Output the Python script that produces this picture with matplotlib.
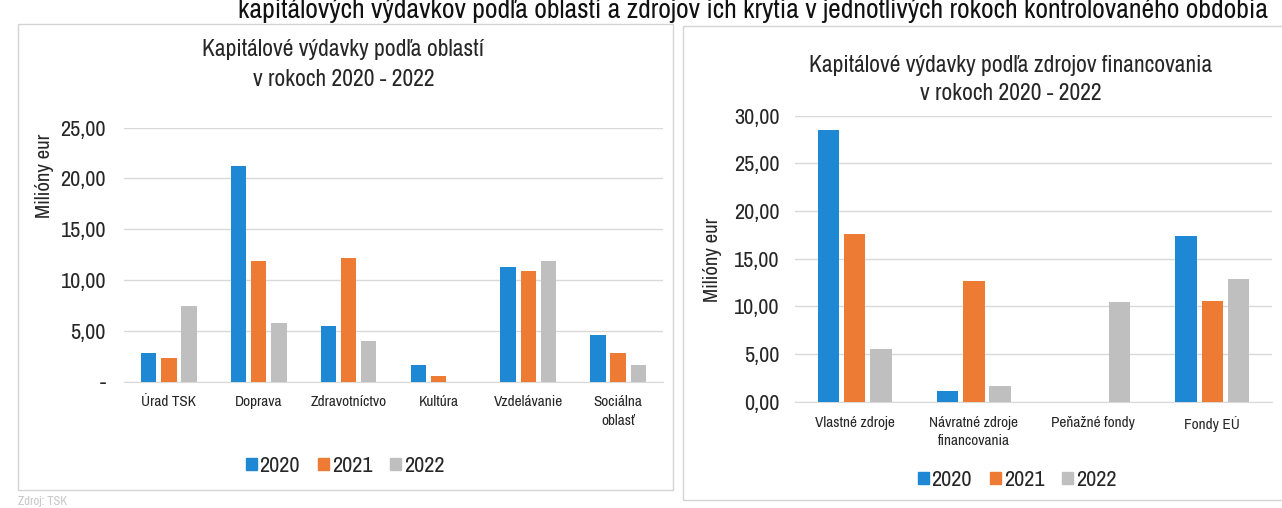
import matplotlib
matplotlib.use("Agg")
import matplotlib.pyplot as plt
import numpy as np
from matplotlib.patches import Patch, Rectangle
from matplotlib import font_manager

# prefer a narrow/condensed sans (the reference uses an Arial Narrow–like face)
FONT = ['Liberation Sans']
STRETCH = 'normal'
cands = [f for f in font_manager.fontManager.ttflist]
narrow = [f for f in cands if 'Narrow' in f.name]
cond = [f for f in cands if f.name == 'DejaVu Sans' and str(f.stretch).lower() in ('condensed', 'semi-condensed')]
if narrow:
    FONT = [narrow[0].name]
elif cond:
    FONT = ['DejaVu Sans']
    STRETCH = 'condensed'
plt.rcParams['font.family'] = FONT + ['DejaVu Sans']
plt.rcParams['font.stretch'] = STRETCH

# ---------------- data ----------------
years = ['2020', '2021', '2022']
areas = ['Úrad TSK', 'Doprava', 'Zdravotníctvo', 'Kultúra', 'Vzdelávanie', 'Sociálna\noblasť']
areas_2020 = [2.85, 21.25, 5.5, 1.6, 11.3, 4.6]
areas_2021 = [2.3, 11.85, 12.15, 0.55, 10.9, 2.8]
areas_2022 = [7.4, 5.8, 4.0, 0.0, 11.9, 1.6]

sources = ['Vlastné zdroje', 'Návratné zdroje\nfinancovania', 'Peňažné fondy', 'Fondy EÚ']
sources_2020 = [28.45, 1.1, 0.0, 17.4]
sources_2021 = [17.55, 12.65, 0.0, 10.6]
sources_2022 = [5.5, 1.6, 10.5, 12.9]

left_ticks = ['-', '5,00', '10,00', '15,00', '20,00', '25,00']
right_ticks = ['0,00', '5,00', '10,00', '15,00', '20,00', '25,00', '30,00']

colors = ['#1e88d4', '#ee7b33', '#bfbfbf']
grid_c = '#d9d9d9'
text_c = '#262626'

W, H = 1282, 508
fig = plt.figure(figsize=(W / 100, H / 100), dpi=100)
fig.patch.set_facecolor('white')

def fx(px):
    return px / W

def fy(py):
    return 1 - py / H

# panel frames
fig.add_artist(Rectangle((fx(18), fy(490)), fx(655), fy(24) - fy(490), transform=fig.transFigure,
                         fill=False, edgecolor='#d4d4d4', lw=1.0))
fig.add_artist(Rectangle((fx(683), fy(500)), fx(640), fy(26) - fy(500), transform=fig.transFigure,
                         fill=False, edgecolor='#d4d4d4', lw=1.0))

# top heading (cut in the scan)
fig.text(fx(238), fy(18), 'kapitálových výdavkov podľa oblastí a zdrojov ich krytia v jednotlivých rokoch kontrolovaného obdobia',
         ha='left', va='baseline', fontsize=20, color='#111111')
fig.text(fx(18), fy(505), 'Zdroj: TSK', ha='left', va='baseline', fontsize=9, color='#c8c8c8')


def draw(ax, cats, series, yticks, ylim, width, offset, catsize, ticksize, ypad):
    x = np.arange(len(cats))
    for i, (vals, c) in enumerate(zip(series, colors)):
        ax.bar(x + (i - 1) * offset, vals, width=width, color=c, zorder=3)
    ax.set_xlim(-0.5, len(cats) - 0.5)
    ax.set_ylim(*ylim)
    ax.set_yticks(np.arange(0, ylim[1] + 0.1, 5))
    ax.set_yticklabels(yticks, fontsize=ticksize, color=text_c)
    ax.set_xticks(x)
    ax.set_xticklabels(cats, fontsize=catsize, color=text_c, linespacing=1.4)
    ax.tick_params(axis='both', length=0)
    ax.tick_params(axis='x', pad=10)
    ax.tick_params(axis='y', pad=ypad)
    ax.yaxis.grid(True, color=grid_c, lw=1.0, zorder=0)
    for s in ['top', 'right', 'left']:
        ax.spines[s].set_visible(False)
    ax.spines['bottom'].set_color(grid_c)
    ax.set_facecolor('none')


# left chart
axL = fig.add_axes([fx(124), fy(381.5), fx(539), fy(127.7) - fy(381.5)])
draw(axL, areas, [areas_2020, areas_2021, areas_2022], left_ticks, (0, 25), 0.17, 0.225, 11, 16, 13)
fig.text(fx(343), fy(49), 'Kapitálové výdavky podľa oblastí', ha='center', va='center', fontsize=17, color=text_c)
fig.text(fx(344), fy(79), 'v rokoch 2020 - 2022', ha='center', va='center', fontsize=17, color=text_c)
fig.text(fx(44), fy(176), 'Milióny eur', rotation=90, ha='center', va='center', fontsize=15, color=text_c)
axL.legend([Patch(color=c) for c in colors], years, loc='center', bbox_to_anchor=(fx(345), fy(466)),
           bbox_transform=fig.transFigure, ncol=3, frameon=False, fontsize=16, handlelength=0.5,
           handleheight=0.5, handletextpad=0.12, columnspacing=0.8, labelcolor=text_c)

# right chart
axR = fig.add_axes([fx(795), fy(401.7), fx(477), fy(115.7) - fy(401.7)])
draw(axR, sources, [sources_2020, sources_2021, sources_2022], right_ticks, (0, 30), 0.18, 0.22, 11, 16, 11)
fig.text(fx(1011), fy(66), 'Kapitálové výdavky podľa zdrojov financovania', ha='center', va='center',
         fontsize=17, color=text_c)
fig.text(fx(1011), fy(94), 'v rokoch 2020 - 2022', ha='center', va='center', fontsize=17, color=text_c)
fig.text(fx(713), fy(260), 'Milióny eur', rotation=90, ha='center', va='center', fontsize=15, color=text_c)
axR.legend([Patch(color=c) for c in colors], years, loc='center', bbox_to_anchor=(fx(1017), fy(480)),
           bbox_transform=fig.transFigure, ncol=3, frameon=False, fontsize=16, handlelength=0.5,
           handleheight=0.5, handletextpad=0.12, columnspacing=0.8, labelcolor=text_c)

fig.savefig('out.png', dpi=100, facecolor='white')
